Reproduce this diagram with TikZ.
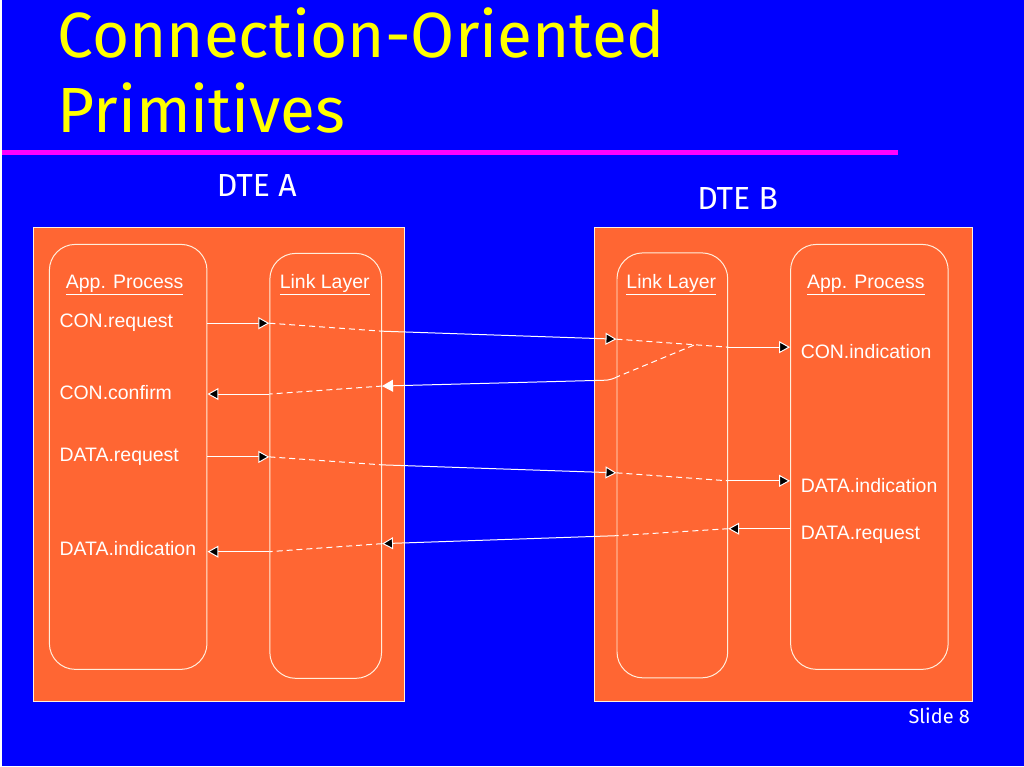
\documentclass[tikz,border=0pt]{standalone}
\usepackage{fontspec}
\setmainfont{Liberation Sans}
\newfontfamily\slidefont{Fira Sans}
\usetikzlibrary{arrows.meta}
\definecolor{slideblue}{RGB}{0,0,255}
\definecolor{slideorange}{RGB}{255,102,51}
\definecolor{rulepink}{RGB}{255,0,255}
\definecolor{slideyellow}{RGB}{255,255,0}
\definecolor{edgecream}{RGB}{255,238,220}

\begin{document}
\begin{tikzpicture}[x=1pt,y=-1pt,
    panel/.style={draw=edgecream,fill=slideorange,line width=0.8pt},
    column/.style={draw=edgecream,rounded corners=26pt,line width=1pt,minimum height=426pt},
    head/.style={text=white,inner sep=0pt,font=\fontsize{19.5}{22}\selectfont,anchor=base},
    prim/.style={text=white,inner sep=0pt,font=\fontsize{19.5}{22}\selectfont,anchor=base west},
    sig/.style={draw=white,line width=1pt},
    tip/.style={-{Triangle[length=11pt,width=12pt]}},
    via/.style={dash pattern=on 6pt off 4pt}]
    % slide
    \fill[slideblue] (0,0) rectangle (1024,768);
    \node[anchor=base west,inner sep=0pt,text=slideyellow,font=\slidefont\fontsize{64}{76}\selectfont] (title1) at (55,58) {Connection-Oriented};
    \node[anchor=base west,inner sep=0pt,text=slideyellow,font=\slidefont\fontsize{64}{76}\selectfont] (title2) at (55,133) {Primitives};
    \draw[rulepink,line width=5pt] (0,153) -- (898,153);
    \node[anchor=base,inner sep=0pt,text=white,font=\slidefont\fontsize{32}{38}\selectfont] (dteAname) at (255,197) {DTE A};
    \node[anchor=base,inner sep=0pt,text=white,font=\slidefont\fontsize{32}{38}\selectfont] (dteBname) at (737,210) {DTE B};
    \node[anchor=base east,inner sep=0pt,text=white,font=\slidefont\fontsize{20}{24}\selectfont] (slideno) at (970,725) {Slide 8};

    % the two stations
    \node[panel,minimum width=372pt,minimum height=475pt] (dteA) at (217,465.5) {};
    \node[panel,minimum width=379pt,minimum height=475pt] (dteB) at (782.5,465.5) {};
    \node[column,minimum width=158pt] (appA)  at (126,458) {};
    \node[column,minimum width=112pt] (linkA) at (324,467) {};
    \node[column,minimum width=111pt] (linkB) at (671.5,466.5) {};
    \node[column,minimum width=158pt] (appB)  at (869,458) {};

    \node[head] (appAhead)  at (122.5,289) {\underline{App. Process}};
    \node[head] (linkAhead) at (323,289)   {\underline{Link Layer}};
    \node[head] (linkBhead) at (670.5,289) {\underline{Link Layer}};
    \node[head] (appBhead)  at (865.5,289) {\underline{App. Process}};

    \node[prim] (conreq)  at (57,328) {CON.request};
    \node[prim] (conconf) at (57,400) {CON.confirm};
    \node[prim] (datreqA) at (57,463) {DATA.request};
    \node[prim] (datindA) at (57,557) {DATA.indication};
    \node[prim] (conind)  at (800,359) {CON.indication};
    \node[prim] (datindB) at (800,494) {DATA.indication};
    \node[prim] (datreqB) at (800,541) {DATA.request};

    % connect request
    \coordinate (c1) at (appA.east  |- 0,324);
    \coordinate (c2) at (linkA.west |- 0,324);
    \coordinate (c3) at (linkA.east |- 0,332);
    \coordinate (c4) at (linkB.west |- 0,340);
    \coordinate (c5) at (linkB.east |- 0,348);
    \coordinate (c6) at (appB.west  |- 0,348);
    % connect confirm
    \coordinate (f1) at (693,346);
    \coordinate (f2) at (linkB.west |- 0,378);
    \coordinate (f3) at (linkA.east |- 0,387);
    \coordinate (f4) at (linkA.west |- 0,395);
    \coordinate (f5) at (appA.east  |- 0,395);
    % data from A
    \coordinate (d1) at (appA.east  |- 0,458);
    \coordinate (d2) at (linkA.west |- 0,458);
    \coordinate (d3) at (linkA.east |- 0,466);
    \coordinate (d4) at (linkB.west |- 0,474);
    \coordinate (d5) at (linkB.east |- 0,482);
    \coordinate (d6) at (appB.west  |- 0,482);
    % data from B
    \coordinate (e1) at (appB.west  |- 0,530);
    \coordinate (e2) at (linkB.east |- 0,530);
    \coordinate (e3) at (linkB.west |- 0,537);
    \coordinate (e4) at (linkA.east |- 0,545);
    \coordinate (e5) at (linkA.west |- 0,553);
    \coordinate (e6) at (appA.east  |- 0,553);

    \path[sig]
    (c1) edge[tip] (c2)
    (c2) edge[via] (c3)
    (c3) edge[tip] (c4)
    (c4) edge[via] (c5)
    (c5) edge[tip] (c6)
    (f1) edge[via] (f2)
    (f3) edge[via] (f4)
    (f4) edge[tip] (f5)
    (d1) edge[tip] (d2)
    (d2) edge[via] (d3)
    (d3) edge[tip] (d4)
    (d4) edge[via] (d5)
    (d5) edge[tip] (d6)
    (e1) edge[tip] (e2)
    (e2) edge[via] (e3)
    (e3) edge[tip] (e4)
    (e4) edge[via] (e5)
    (e5) edge[tip] (e6);
    \draw[sig,tip,rounded corners=5pt] (f2) -- ++(-6,3) -- (f3);
\end{tikzpicture}
\end{document}
